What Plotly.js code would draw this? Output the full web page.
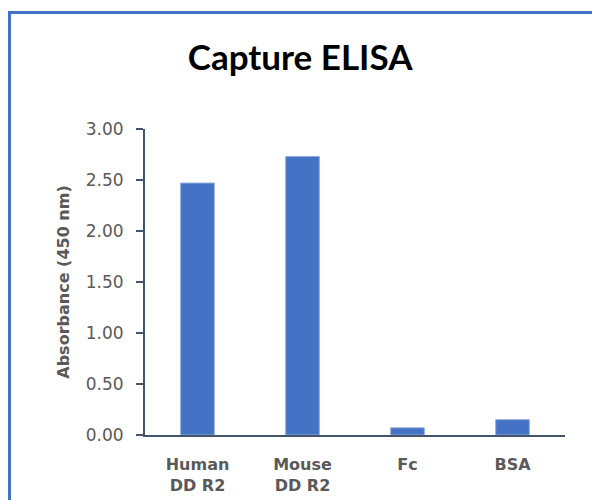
<!DOCTYPE html>
<html>
<head>
<meta charset="utf-8">
<script src="https://cdn.plot.ly/plotly-3.0.1.min.js"></script>
<style>
html,body{margin:0;padding:0;background:#fff;overflow:hidden;width:592px;height:500px;}
#wrap{position:relative;width:592px;height:500px;overflow:hidden;}
#chart{position:absolute;left:0;top:0;width:592px;height:500px;}
#frame{position:absolute;left:8px;top:11px;width:700px;height:700px;border-left:3px solid #4472c4;border-top:3px solid #4472c4;pointer-events:none;box-sizing:border-box;}
</style>
</head>
<body>
<div id="wrap"><div id="chart"></div><div id="frame"></div></div>
<script>
const categories = ["Human<br>DD R2", "Mouse<br>DD R2", "Fc", "BSA"];
const absorbance = [2.47, 2.73, 0.07, 0.15];
const yTicks = [0, 0.5, 1.0, 1.5, 2.0, 2.5, 3.0];

const trace = {
  type: "bar",
  x: categories,
  y: absorbance,
  width: 0.32,
  marker: {color: "#4472c4", line: {color: "#8faadc", width: 1}},
  hoverinfo: "x+y"
};

const layout = {
  width: 592,
  height: 500,
  margin: {l: 145, r: 27, t: 129, b: 65, pad: 0},
  paper_bgcolor: "rgba(255,255,255,0)",
  plot_bgcolor: "rgba(255,255,255,0)",
  showlegend: false,
  title: {
    text: "<b>Capture ELISA</b>",
    font: {family: "Lato, 'Open Sans', sans-serif", size: 35, color: "#000000"},
    x: 0.507, xanchor: "center",
    y: 0.884, yanchor: "middle"
  },
  xaxis: {
    type: "category",
    showline: true, linecolor: "#44546a", linewidth: 2,
    ticks: "", showgrid: false, zeroline: false,
    tickfont: {family: "'DejaVu Sans', sans-serif", size: 16, color: "#595959", weight: "bold"},
    ticklabelstandoff: 14,
    fixedrange: true
  },
  yaxis: {
    range: [0, 3],
    tickvals: yTicks,
    tickformat: ".2f",
    showline: true, linecolor: "#44546a", linewidth: 2,
    ticks: "outside", ticklen: 7, tickwidth: 2, tickcolor: "#44546a",
    showgrid: false, zeroline: false,
    ticklabelstandoff: 9,
    tickfont: {family: "'DejaVu Sans', sans-serif", size: 17, color: "#595959"},
    title: {text: "<b>Absorbance (450 nm)</b>", font: {family: "'DejaVu Sans', sans-serif", size: 16, color: "#595959"}, standoff: 12},
    fixedrange: true
  }
};

Plotly.newPlot("chart", [trace], layout, {displayModeBar: false, staticPlot: true});
</script>
</body>
</html>
